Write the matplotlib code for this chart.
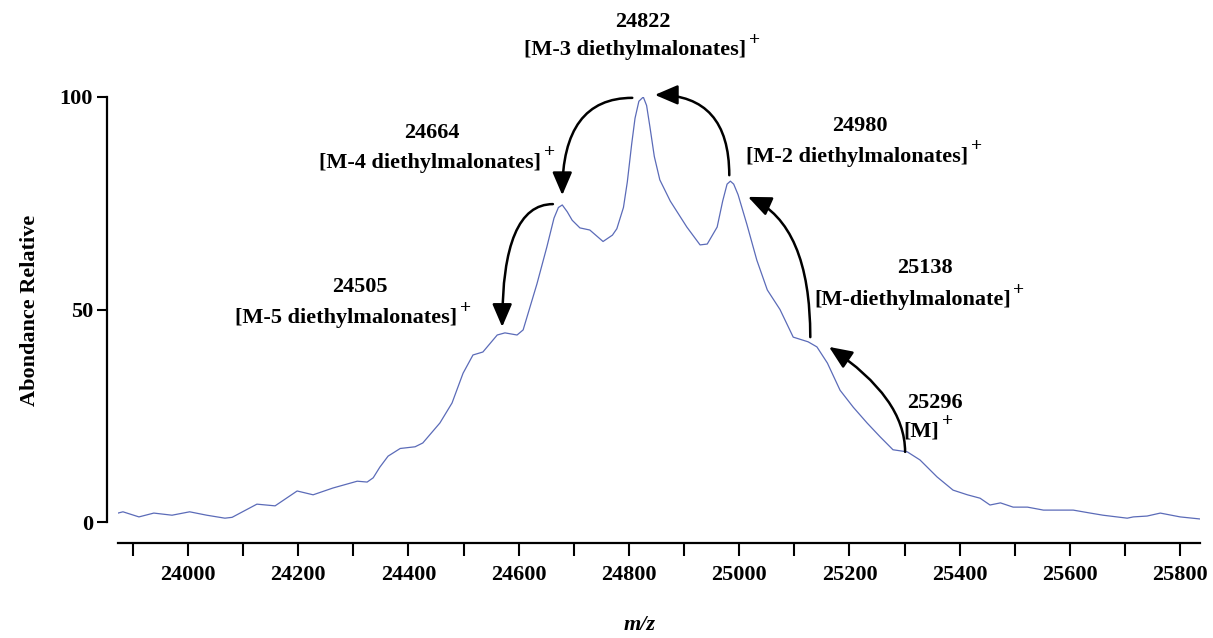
import matplotlib.pyplot as plt

plt.rcParams['font.family'] = ['Liberation Serif', 'DejaVu Serif']
plt.rcParams['font.weight'] = 'bold'

# spectre déconvolué (m/z, abondance relative)
mz = [23867, 23882, 23911, 23938, 23971, 24003, 24034, 24067, 24080, 24125,
      24158, 24198, 24227, 24263, 24307, 24325, 24336, 24348, 24363, 24385,
      24412, 24426, 24457, 24479, 24499, 24517, 24535, 24561, 24575, 24597,
      24608, 24633, 24651, 24664, 24672, 24679, 24688, 24697, 24711, 24729,
      24753, 24770, 24778, 24790, 24797, 24805, 24811, 24818, 24826, 24832,
      24838, 24846, 24856, 24875, 24905, 24929, 24942, 24960, 24970, 24978,
      24984, 24990, 24998, 25014, 25032, 25051, 25074, 25098, 25125, 25141,
      25160, 25183, 25207, 25232, 25256, 25279, 25305, 25328, 25359, 25388,
      25414, 25437, 25455, 25474, 25497, 25523, 25552, 25577, 25606, 25637,
      25660, 25704, 25715, 25740, 25764, 25800, 25837]
abundance = [1.9, 2.4, 1.2, 2.1, 1.6, 2.4, 1.6, 0.9, 1.1, 4.2,
             3.8, 7.3, 6.4, 8.0, 9.6, 9.4, 10.4, 12.9, 15.5, 17.3,
             17.7, 18.6, 23.3, 28.0, 35.0, 39.3, 40.0, 44.0, 44.5, 44.0,
             45.2, 56.0, 64.7, 71.5, 74.0, 74.6, 73.0, 71.0, 69.2, 68.7,
             66.0, 67.5, 69.0, 74.0, 80.0, 89.0, 95.0, 99.0, 100.0, 98.0,
             93.0, 86.0, 80.5, 75.5, 69.4, 65.2, 65.4, 69.4, 75.5, 79.5,
             80.2, 79.5, 77.0, 70.0, 61.6, 54.6, 50.0, 43.5, 42.4, 41.2,
             37.4, 31.0, 27.0, 23.3, 20.0, 17.0, 16.5, 14.6, 10.6, 7.5,
             6.4, 5.6, 4.0, 4.5, 3.5, 3.5, 2.8, 2.8, 2.8, 2.1,
             1.6, 0.9, 1.2, 1.4, 2.1, 1.2, 0.7]

peak_mz = [24505, 24664, 24822, 24980, 25138, 25296]
peak_names = ['[M-5 diethylmalonates]', '[M-4 diethylmalonates]',
              '[M-3 diethylmalonates]', '[M-2 diethylmalonates]',
              '[M-diethylmalonate]', '[M]']

y_ticks = [0, 50, 100]
x_major = list(range(24000, 25801, 200))
x_minor = list(range(23900, 25801, 200))

fig = plt.figure(figsize=(12.13, 6.38), dpi=100)
ax = fig.add_axes([118 / 1213, 95 / 638, 1082 / 1213, 446 / 638])
ax.plot(mz, abundance, color='#5b6bb8', lw=0.9)
ax.set_xlim(23873, 25836)
ax.set_ylim(-4.94, 100)

for s in ['top', 'right']:
    ax.spines[s].set_visible(False)
ax.spines['left'].set_position(('outward', 8))
ax.spines['left'].set_bounds(0, 100)
ax.spines['left'].set_linewidth(1.6)
ax.spines['bottom'].set_linewidth(1.6)

ax.set_yticks(y_ticks)
ax.set_xticks(x_major)
ax.set_xticks(x_minor, minor=True)
ax.tick_params(axis='y', direction='out', length=7, width=1.5, pad=3, labelsize=16)
ax.tick_params(axis='x', which='both', direction='out', length=9, width=1.5, pad=7, labelsize=16)

fig.text(30 / 1213, 1 - 310 / 638, 'Abondance Relative', rotation=90,
         ha='center', va='center', fontsize=16)
fig.text(640 / 1213, 1 - 625 / 638, 'm/z', style='italic',
         ha='center', va='center', fontsize=16)

# positions des étiquettes (valeur, nom) en coordonnées données
label_pos = [((24312, 55.3), (24287, 48.0)),
             ((24443, 91.5), (24439, 84.5)),
             ((24826, 117.6), (24811, 111.0)),
             ((25219, 93.2), (25214, 85.9)),
             ((25337, 59.8), (25314, 52.2)),
             ((25356, 28.0), (25330, 21.2))]

for m, name, (p_num, p_name) in zip(peak_mz, peak_names, label_pos):
    ax.text(p_num[0], p_num[1], str(m), ha='center', va='center', fontsize=16)
    t = ax.text(p_name[0], p_name[1], name, ha='center', va='center', fontsize=16)
    ax.annotate('+', xy=(1, 1), xycoords=t, xytext=(2, 0), textcoords='offset points',
                ha='left', va='center', fontsize=14)

# flèches de perte successive de diéthylmalonate
arrows = [((24982, 81.6), (24847, 100.5), 90, 0),
          ((24806, 99.8), (24679, 76.9), 0, 90),
          ((24662, 74.8), (24570, 45.9), 0, 90),
          ((25129, 43.5), (25016, 76.5), 90, -24),
          ((25301, 16.5), (25163, 41.2), 90, -34)]
for tail, head, a_a, a_b in arrows:
    ax.annotate('', xy=head, xytext=tail, annotation_clip=False,
                arrowprops=dict(arrowstyle='-|>,head_length=0.7,head_width=0.3',
                                connectionstyle=f'angle3,angleA={a_a},angleB={a_b}',
                                lw=1.8, color='black', shrinkA=0, shrinkB=0,
                                mutation_scale=20))

plt.savefig('out.png', dpi=100)
plt.close()
